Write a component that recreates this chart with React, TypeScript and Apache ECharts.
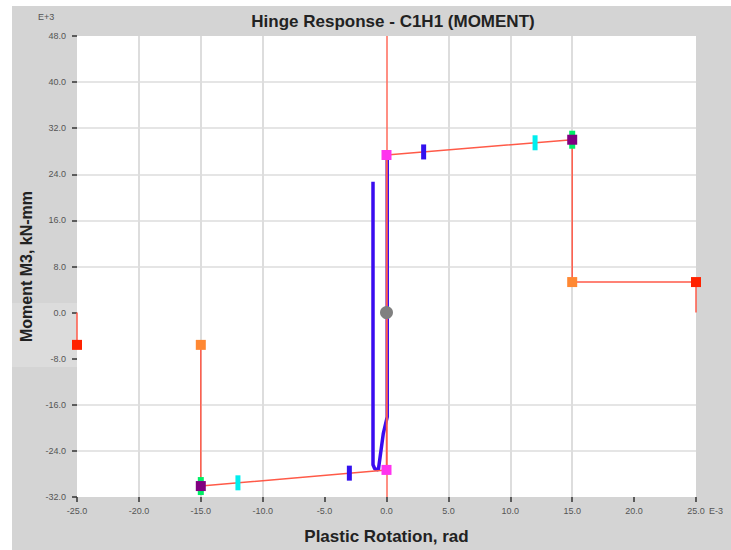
import React, { useEffect, useRef } from "react";
import * as echarts from "echarts";

const xTicks = [-25, -20, -15, -10, -5, 0, 5, 10, 15, 20, 25];
const yTicks = [-32, -24, -16, -8, 0, 8, 16, 24, 32, 40, 48];
const xGridLines = [-20, -15, -10, 5, 10, 15];
const yGridLines = [-24, -16, 8, 16, 24, 32, 40];

// backbone (A-B-C-D-E both directions)
const backboneLeft: [number, number][] = [[-25, 0], [-25, -5.6]];
const backboneMain: [number, number][] = [
  [-15, -5.6], [-15, -30.1], [0, -27.3],
  [0, 27.35], [15, 30], [15, 5.3], [25, 5.3], [25, 0],
];
const pointB: [number, number][] = [[0, 27.35], [0, -27.3]];
const pointC: [number, number][] = [[15, 30], [-15, -30.1]];
const pointD: [number, number][] = [[15, 5.3], [-15, -5.6]];
const pointE: [number, number][] = [[25, 5.3], [-25, -5.6]];
const pointA: [number, number][] = [[0, 0]];
const ioMarks: [number, number][] = [[3, 27.88], [-3, -27.86]];
const lsMarks: [number, number][] = [[12, 29.47], [-12, -29.54]];
const cpMarks: [number, number][] = [[15, 30], [-15, -30.1]];

// hinge response
const response: [number, number][] = [
  [-1.09, 22.7], [-1.09, -26.4], [-0.95, -27.1], [-0.66, -27.3],
  [-0.26, -21.0], [0.06, -18.1], [0.06, 26.5],
];

export default function App() {
  const ref = useRef<HTMLDivElement>(null);
  useEffect(() => {
    if (!ref.current) return;
    const chart = echarts.init(ref.current, undefined, { renderer: "svg" });
    const font = "'Liberation Sans', Arial, sans-serif";
    const sq = (name: string, data: [number, number][], color: string, z: number) => ({
      name, type: "scatter", data, symbol: "rect", symbolSize: 10, z,
      itemStyle: { color, opacity: 1 }, silent: true,
    });
    const bar = (name: string, data: [number, number][], color: string, size: number[], z: number) => ({
      name, type: "scatter", data, symbol: "rect", symbolSize: size, z,
      itemStyle: { color, opacity: 1 }, silent: true,
    });
    const redLine = { color: "#ff5a48", width: 1.5 };
    chart.setOption({
      animation: false,
      backgroundColor: "#ffffff",
      title: {
        text: "Hinge Response - C1H1 (MOMENT)",
        left: 388, top: 8, textAlign: "center",
        textStyle: { fontFamily: font, fontSize: 17, fontWeight: "bold", color: "#222" },
      },
      graphic: [
        { type: "rect", z: -100, shape: { x: 12, y: 6, width: 719, height: 544 }, style: { fill: "#d4d4d4" } },
        { type: "rect", z: -99, shape: { x: 12, y: 303, width: 65, height: 64 }, style: { fill: "#dcdcdc" } },
        { type: "text", left: 38, top: 12, style: { text: "E+3", font: `9px ${font}`, fill: "#555" } },
        { type: "text", left: 709, top: 506, style: { text: "E-3", font: `9px ${font}`, fill: "#555" } },
      ],
      grid: {
        left: 77, right: 35, top: 36, bottom: 53,
        show: true, backgroundColor: "#ffffff", borderWidth: 0,
      },
      xAxis: {
        type: "value", min: -25, max: 25, interval: 5,
        name: "Plastic Rotation, rad", nameLocation: "middle", nameGap: 31,
        nameTextStyle: { fontFamily: font, fontSize: 17, fontWeight: "bold", color: "#222" },
        axisLine: { show: false, onZero: false },
        axisTick: { show: true, length: 5, lineStyle: { color: "#333", width: 1.5 } },
        axisLabel: {
          fontFamily: font, fontSize: 9, color: "#555", margin: 9,
          formatter: (v: number) => (xTicks.includes(v) ? v.toFixed(1) : ""),
        },
        splitLine: { show: false },
      },
      yAxis: {
        type: "value", min: -32, max: 48, interval: 8,
        name: "Moment M3, kN-mm", nameLocation: "middle", nameGap: 43,
        nameTextStyle: { fontFamily: font, fontSize: 16, fontWeight: "bold", color: "#222" },
        axisLine: { show: false, onZero: false },
        axisTick: { show: true, length: 5, lineStyle: { color: "#333", width: 1.5 } },
        axisLabel: {
          fontFamily: font, fontSize: 9, color: "#555", margin: 11,
          formatter: (v: number) => (yTicks.includes(v) ? v.toFixed(1) : ""),
        },
        splitLine: { show: false },
      },
      series: [
        {
          name: "grid", type: "line", data: [], silent: true, z: 1,
          markLine: {
            z: 1, silent: true, symbol: "none", label: { show: false },
            lineStyle: { color: "#dddddd", width: 2, type: "solid" },
            data: [
              ...xGridLines.map((x) => ({ xAxis: x })),
              ...yGridLines.map((y) => ({ yAxis: y, lineStyle: { width: 1.5 } })),
            ],
          },
        },
        {
          name: "response", type: "line", data: response, showSymbol: false, z: 2,
          lineStyle: { color: "#3a0cf0", width: 3.5 }, silent: true,
        },
        {
          name: "backboneLeft", type: "line", data: backboneLeft, showSymbol: false, z: 3,
          lineStyle: redLine, silent: true,
        },
        {
          name: "backbone", type: "line", data: backboneMain, showSymbol: false, z: 3,
          lineStyle: redLine, silent: true,
          markLine: {
            z: 3, silent: true, symbol: "none", label: { show: false },
            lineStyle: { color: "#ff6a5a", width: 1.5, type: "solid" },
            data: [{ xAxis: 0 }],
          },
        },
        bar("CP", cpMarks, "#00ee66", [6, 18], 4),
        bar("IO", ioMarks, "#3311ee", [5, 15], 5),
        bar("LS", lsMarks, "#00eeee", [5, 15], 5),
        sq("B", pointB, "#ff33ee", 6),
        sq("C", pointC, "#800080", 6),
        sq("D", pointD, "#ff8833", 6),
        sq("E", pointE, "#ff2200", 6),
        {
          name: "A", type: "scatter", data: pointA, symbol: "circle", symbolSize: 13, z: 7,
          itemStyle: { color: "#808080", opacity: 1 }, silent: true,
        },
      ],
    });
    return () => chart.dispose();
  }, []);
  return (
    <div
      ref={ref}
      style={{ position: "fixed", left: 0, top: 0, width: 731, height: 550 }}
    />
  );
}
